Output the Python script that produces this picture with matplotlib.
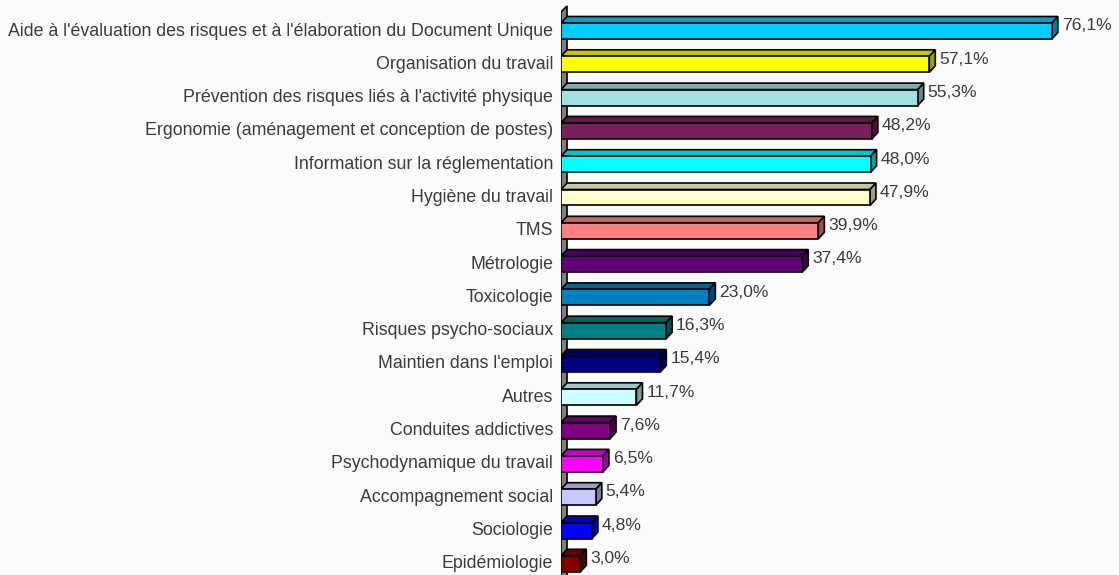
import matplotlib.pyplot as plt
from matplotlib.patches import Polygon
from matplotlib.colors import to_rgb

labels = [
    "Aide à l'évaluation des risques et à l'élaboration du Document Unique",
    "Organisation du travail",
    "Prévention des risques liés à l'activité physique",
    "Ergonomie (aménagement et conception de postes)",
    "Information sur la réglementation",
    "Hygiène du travail",
    "TMS",
    "Métrologie",
    "Toxicologie",
    "Risques psycho-sociaux",
    "Maintien dans l'emploi",
    "Autres",
    "Conduites addictives",
    "Psychodynamique du travail",
    "Accompagnement social",
    "Sociologie",
    "Epidémiologie",
]
values = [76.1, 57.1, 55.3, 48.2, 48.0, 47.9, 39.9, 37.4, 23.0, 16.3, 15.4, 11.7, 7.6, 6.5, 5.4, 4.8, 3.0]
colors = ["#00CCFF", "#FFFF00", "#A0E0E0", "#7B1F5A", "#00FFFF", "#FFFFCC", "#FF8080",
          "#620078", "#0080C0", "#008080", "#000080", "#CCFFFF", "#800080", "#FF00FF",
          "#C8C8FF", "#0000FF", "#800000"]

def shade(c, f):
    r, g, b = to_rgb(c)
    return (r * f, g * f, b * f)

W, H = 1119, 575
fig = plt.figure(figsize=(W / 100, H / 100), dpi=100, facecolor="#fbfbfb")
ax = fig.add_axes([561 / W, 0, 1 - 561 / W, 1])
ax.set_facecolor("none")

px_x = 6.45   # pixels per percent
px_y = 33.3   # pixels per row
y0 = 31       # pixel of first row centre
ax.set_xlim(0, (W - 561) / px_x)
ax.set_ylim((H - y0) / px_y, -y0 / px_y)
ax.axis("off")

dx = 6 / px_x
dy = 6.5 / px_y
h = 8 / px_y

# side wall
wall = Polygon([(0, 20), (0, (12 - y0) / px_y), (dx, (6 - y0) / px_y), (dx, 20)],
               closed=True, facecolor="#808080", edgecolor="black", lw=1.2, zorder=1)
ax.add_patch(wall)

for i, (v, c) in enumerate(zip(values, colors)):
    top = i - h
    bot = i + h
    front = Polygon([(0, top), (v, top), (v, bot), (0, bot)], closed=True,
                    facecolor=c, edgecolor="black", lw=1.2, zorder=3)
    upper = Polygon([(0, top), (v, top), (v + dx, top - dy), (dx, top - dy)], closed=True,
                    facecolor=shade(c, 0.78), edgecolor="black", lw=1.2, zorder=2)
    side = Polygon([(v, top), (v + dx, top - dy), (v + dx, bot - dy), (v, bot)], closed=True,
                   facecolor=shade(c, 0.62), edgecolor="black", lw=1.2, zorder=2)
    for p in (upper, side, front):
        ax.add_patch(p)
    ax.text(v + dx + 0.6, i - dy * 0.8, f"{v:.1f}".replace(".", ",") + "%",
            ha="left", va="center", fontsize=12.6, color="#3a3a3a",
            family="Liberation Sans", clip_on=False)
    ax.text(-8 / px_x, i, labels[i], ha="right", va="center", fontsize=12.8,
            color="#3a3a3a", family="Liberation Sans", clip_on=False)

fig.savefig("out.png", dpi=100, facecolor=fig.get_facecolor())
